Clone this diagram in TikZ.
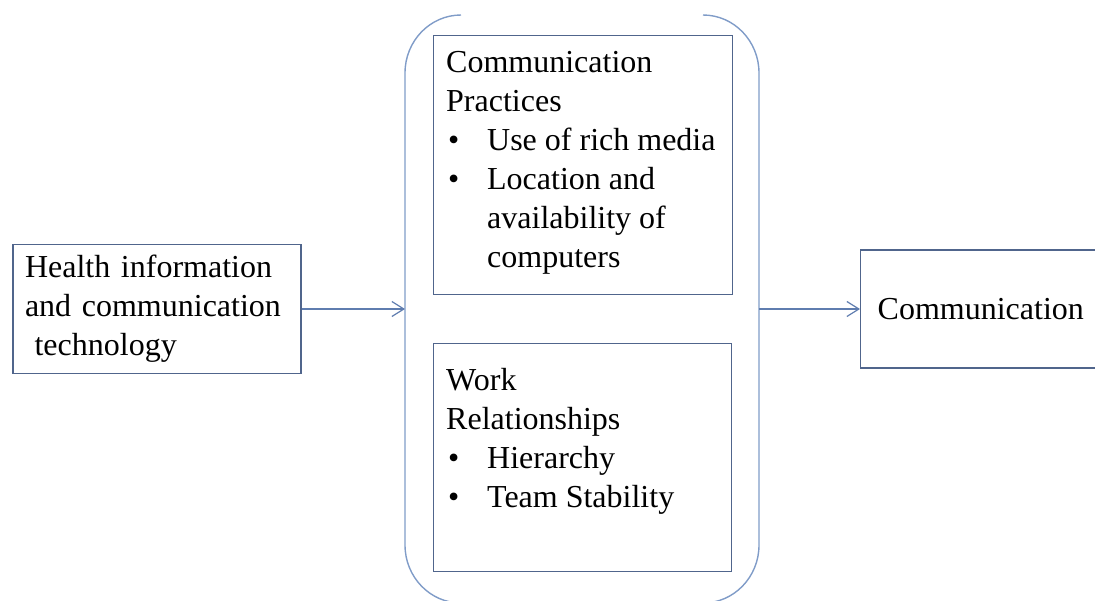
\documentclass[tikz,border=0pt]{standalone}
\usepackage{fontspec}
\setmainfont{Liberation Serif}
\newfontfamily\timesfont{Liberation Serif}
\usepackage{tikz}
\usetikzlibrary{positioning,arrows.meta}
\definecolor{framecol}{RGB}{80,101,140}
\definecolor{bracketcol}{RGB}{128,156,200}
\definecolor{arrowcol}{RGB}{95,125,175}
\newcommand{\bul}{\makebox[41pt][l]{\hspace{2pt}\textbullet}}
\newcommand{\hang}{\hspace*{41pt}}

\begin{document}
\begin{tikzpicture}[
  x=1pt, y=-1pt,
  box/.style={draw=framecol, line width=1.3pt, rectangle, align=left, inner sep=0pt},
  frame/.style={draw=framecol, line width=1.3pt, rectangle, inner sep=0pt, anchor=north west},
  txt/.style={align=left, inner sep=0pt, anchor=north west},
  bracket/.style={draw=bracketcol, line width=1.4pt},
  flow/.style={draw=arrowcol, line width=1.2pt, -{Straight Barb[length=12pt,width=15pt]}},
  font=\timesfont\fontsize{32}{39}\selectfont
]
\useasboundingbox (0,0) rectangle (1095,600);
\clip (0,0) rectangle (1095,600);
\node[box, text width=264pt, inner xsep=12pt, minimum height=129pt] (hict) at (157,309) {Health information\\and communication\\\hspace*{0.3em}technology};
\node[frame, minimum width=299pt, minimum height=259pt] (practices) at (433,35) {};
\node[txt] (practicestxt) at ([xshift=13pt, yshift=-16pt]practices.north west) {Communication\\Practices\\\bul Use of rich media\\\bul Location and\\\hang availability of\\\hang computers};
\node[frame, minimum width=298pt, minimum height=228pt] (relations) at (433,343) {};
\node[txt] (relationstxt) at ([xshift=13pt, yshift=-25pt]relations.north west) {Work\\Relationships\\\bul Hierarchy\\\bul Team Stability};
\node[box, anchor=west, text width=216pt, inner xsep=17pt, minimum height=118pt] (comm) at (860,309) {Communication};
% the two brackets round the middle boxes
\coordinate (inL) at (405,309);
\coordinate (inR) at (759,309);
\draw[bracket] (461,15) arc[start angle=270, end angle=180, x radius=56, y radius=58] -- (405,545) arc[start angle=180, end angle=90, x radius=56, y radius=58];
\draw[bracket] (703,15) arc[start angle=270, end angle=360, x radius=56, y radius=58] -- (759,545) arc[start angle=0, end angle=90, x radius=56, y radius=58];
\draw[flow] (hict) -- (inL);
\draw[flow] (inR) -- (comm);
\end{tikzpicture}
\end{document}
